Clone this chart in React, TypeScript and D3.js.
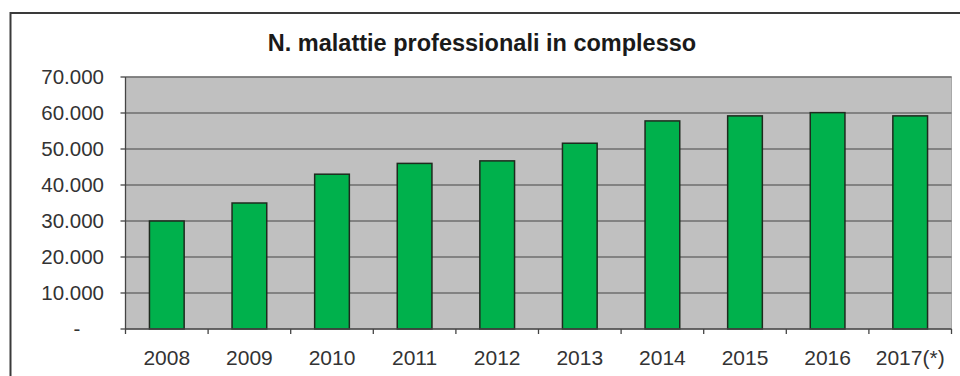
import React from "react";
import * as d3 from "d3";

const title = "N. malattie professionali in complesso";
const categories = ["2008", "2009", "2010", "2011", "2012", "2013", "2014", "2015", "2016", "2017(*)"];
const values = [30000, 35000, 43000, 46000, 46700, 51600, 57800, 59200, 60100, 59200];
const yTicks = [0, 10000, 20000, 30000, 40000, 50000, 60000, 70000];
const yTickLabels = ["-", "10.000", "20.000", "30.000", "40.000", "50.000", "60.000", "70.000"];

const W = 960;
const H = 376;
const plot = { left: 125.5, right: 951.5, top: 77, bottom: 329 };
const font = "'Liberation Sans', Arial, sans-serif";

export default function App() {
  const x = d3.scaleBand<string>().domain(categories).range([plot.left, plot.right]).paddingInner(0.58).paddingOuter(0.29);
  const xOuter = d3.scaleBand<string>().domain(categories).range([plot.left, plot.right]);
  const y = d3.scaleLinear().domain([0, 70000]).range([plot.bottom, plot.top]);

  return (
    <svg width={W} height={H} style={{ position: "absolute", left: 0, top: 0, background: "#fff" }}>
      <rect x={10.5} y={13} width={970} height={400} fill="#fff" stroke="#3a3a3a" strokeWidth={2} />
      <text x={482} y={51} textAnchor="middle" fontFamily={font} fontWeight="bold" fontSize={23.5} fill="#1a1a1a">
        {title}
      </text>
      <rect x={plot.left} y={plot.top} width={plot.right - plot.left} height={plot.bottom - plot.top} fill="#c0c0c0" stroke="#a8a8a8" strokeWidth={1} />
      {yTicks.map((t, i) => (
        <g key={t}>
          {t > 0 && (
            <line x1={plot.left} x2={plot.right} y1={y(t)} y2={y(t)} stroke="#6e6e6e" strokeWidth={1.3} />
          )}
          <line x1={plot.left - 5} x2={plot.left} y1={y(t)} y2={y(t)} stroke="#444" strokeWidth={1.3} />
          <text
            x={t === 0 ? 77 : 104}
            y={y(t)}
            dy="0.36em"
            textAnchor={t === 0 ? "middle" : "end"}
            fontFamily={font}
            fontSize={20.5}
            fill="#333"
          >
            {yTickLabels[i]}
          </text>
        </g>
      ))}
      {categories.map((c, i) => (
        <rect
          key={c}
          x={x(c)}
          y={y(values[i])}
          width={x.bandwidth()}
          height={plot.bottom - y(values[i])}
          fill="#00b14c"
          stroke="#1e2a1e"
          strokeWidth={1.5}
        />
      ))}
      <line x1={plot.left} x2={plot.left} y1={plot.top} y2={plot.bottom} stroke="#444" strokeWidth={1.3} />
      <line x1={plot.left} x2={plot.right} y1={plot.bottom} y2={plot.bottom} stroke="#444" strokeWidth={1.3} />
      {categories.map((c) => (
        <line key={"t" + c} x1={(xOuter(c) as number) + xOuter.bandwidth()} x2={(xOuter(c) as number) + xOuter.bandwidth()} y1={plot.bottom} y2={plot.bottom + 5} stroke="#444" strokeWidth={1.3} />
      ))}
      <line x1={plot.left} x2={plot.left} y1={plot.bottom} y2={plot.bottom + 5} stroke="#444" strokeWidth={1.3} />
      {categories.map((c) => (
        <text key={"l" + c} x={(xOuter(c) as number) + xOuter.bandwidth() / 2} y={365} textAnchor="middle" fontFamily={font} fontSize={21} fill="#333">
          {c}
        </text>
      ))}
    </svg>
  );
}
